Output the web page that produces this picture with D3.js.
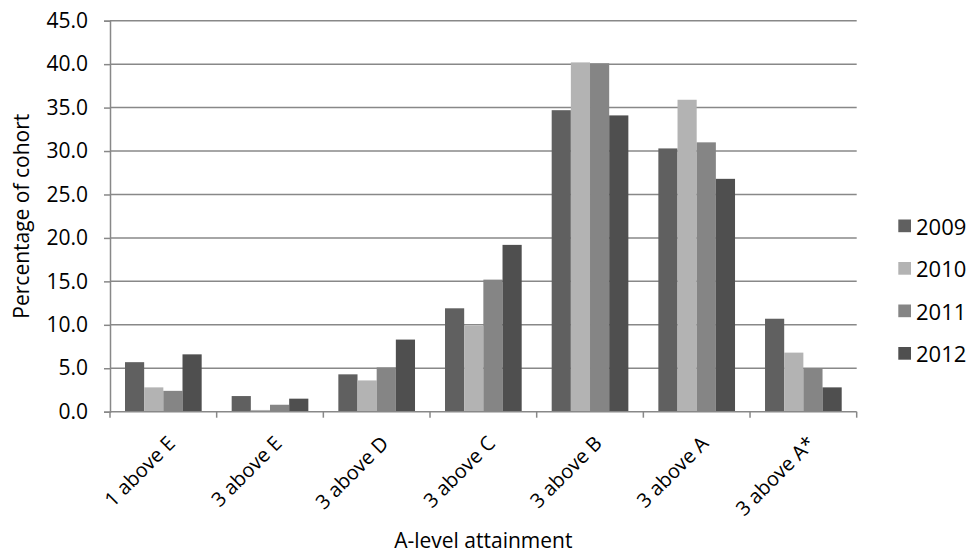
<!DOCTYPE html>
<html><head><meta charset="utf-8">
<script src="https://cdn.jsdelivr.net/npm/d3@7"></script>
<style>body{margin:0;background:#fff}svg{display:block}text{font-family:"Open Sans",sans-serif;fill:#000}</style>
</head><body>
<svg id="c" width="971" height="553"></svg>
<script>
const categories = ["1 above E","3 above E","3 above D","3 above C","3 above B","3 above A","3 above A*"];
const seriesNames = ["2009","2010","2011","2012"];
const v2009 = [5.7,1.8,4.3,11.9,34.7,30.3,10.7];
const v2010 = [2.8,0.2,3.6,9.9,40.2,35.9,6.8];
const v2011 = [2.4,0.8,5.1,15.2,40.1,31.0,5.0];
const v2012 = [6.6,1.5,8.3,19.2,34.1,26.8,2.8];
const yTicks = [0,5,10,15,20,25,30,35,40,45];
const colors = ["#606060","#b3b3b3","#858585","#4f4f4f"];
const series = [v2009,v2010,v2011,v2012];

const svg = d3.select("#c");
const L=110, R=856.7, T=20.7, B=411.7;
const x = d3.scaleBand().domain(categories).range([L,R]).paddingInner(0).paddingOuter(0);
const xs = d3.scaleBand().domain(seriesNames).range([15,x.bandwidth()-15]).padding(0);
const y = d3.scaleLinear().domain([0,45]).range([B,T]);
const gridC="#888888";
const FS=21;

// gridlines
svg.append("g").selectAll("line").data(yTicks.filter(d=>d>0)).join("line")
  .attr("x1",L).attr("x2",R).attr("y1",d=>y(d)).attr("y2",d=>y(d))
  .attr("stroke",gridC).attr("stroke-width",1.5);

// bars
const g = svg.append("g");
categories.forEach((c,i)=>{
  series.forEach((s,j)=>{
    g.append("rect").attr("x",x(c)+xs(seriesNames[j])).attr("width",xs.bandwidth())
      .attr("y",y(s[i])).attr("height",B-y(s[i])).attr("fill",colors[j]);
  });
});

// y axis
const ya = svg.append("g").attr("transform",`translate(${L},0)`)
  .call(d3.axisLeft(y).tickValues(yTicks).tickFormat(d3.format(".1f")).tickSize(6).tickPadding(16));
ya.select(".domain").attr("stroke",gridC).attr("stroke-width",1.5);
ya.selectAll(".tick line").attr("stroke",gridC).attr("stroke-width",1.5);
ya.selectAll("text").attr("font-size",FS).attr("font-family","Open Sans").attr("fill","#000");

// x axis
const xa = svg.append("g").attr("transform",`translate(0,${B})`);
xa.append("line").attr("x1",L).attr("x2",R).attr("stroke",gridC).attr("stroke-width",1.5);
xa.selectAll(".tk").data(d3.range(categories.length+1)).join("line")
  .attr("x1",i=>L+i*x.step()).attr("x2",i=>L+i*x.step()).attr("y1",0).attr("y2",6)
  .attr("stroke",gridC).attr("stroke-width",1.5);
xa.selectAll(".lbl").data(categories).join("text")
  .attr("transform",d=>`translate(${x(d)+x.bandwidth()/2+13},${33}) rotate(-45)`)
  .attr("text-anchor","end").attr("font-size",20).text(d=>d);

// axis titles
svg.append("text").attr("x",(L+R)/2).attr("y",548).attr("text-anchor","middle").attr("font-size",FS).text("A-level attainment");
svg.append("text").attr("transform",`translate(29,${(T+B)/2}) rotate(-90)`).attr("text-anchor","middle").attr("font-size",FS).text("Percentage of cohort");

// legend
const lg = svg.append("g");
seriesNames.forEach((n,j)=>{
  const base = 234.5 + j*42.5;
  lg.append("rect").attr("x",898.3).attr("y",base-15).attr("width",12.7).attr("height",12.7).attr("fill",colors[j]);
  lg.append("text").attr("x",916).attr("y",base).attr("font-size",22).text(n);
});
</script>
</body></html>
